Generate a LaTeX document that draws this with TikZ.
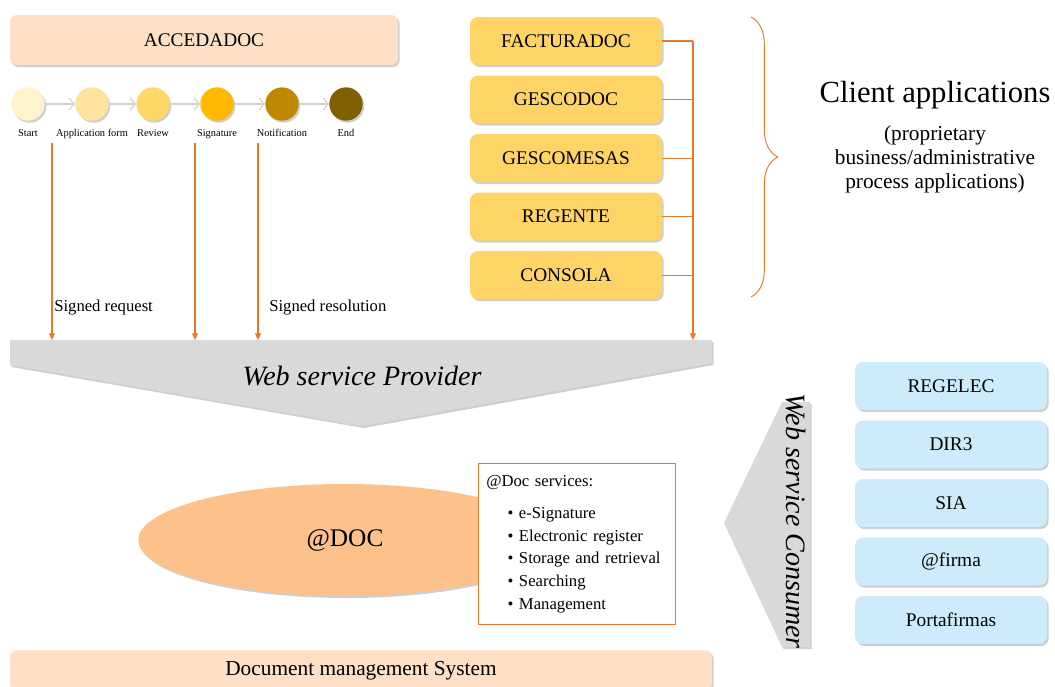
\documentclass[tikz,border=0pt]{standalone}
\usepackage{fontspec}
\setmainfont{Liberation Serif}
\usetikzlibrary{positioning,arrows.meta,shadows,shapes.geometric,decorations.pathreplacing}

\definecolor{peach}{HTML}{FDE0C6}
\definecolor{gold}{HTML}{FFD466}
\definecolor{skyb}{HTML}{CDEBFA}
\definecolor{lineor}{HTML}{E8782A}
\definecolor{ovalor}{HTML}{FDC18C}
\definecolor{greyarr}{HTML}{D9D9D9}
\definecolor{st1}{HTML}{FFF2CC}
\definecolor{st2}{HTML}{FFE29C}
\definecolor{st3}{HTML}{FFD766}
\definecolor{st4}{HTML}{FFBA00}
\definecolor{st5}{HTML}{BF8800}
\definecolor{st6}{HTML}{7F5F00}

\begin{document}
\begin{tikzpicture}[x=0.75pt, y=-0.75pt,
  node distance=7.5pt,
  shad/.style={drop shadow={shadow xshift=1.2pt, shadow yshift=-1.5pt,
               opacity=.35, fill=black!55}},
  bar/.style={rounded corners=5pt, fill=peach, shad, minimum height=37.5pt,
              font=\fontsize{14.5}{17}\selectfont},
  app/.style={rounded corners=6pt, fill=gold, shad, minimum width=144pt,
              minimum height=36pt, font=\fontsize{14.5}{17}\selectfont},
  ext/.style={app, fill=skyb},
  stepdot/.style={circle, minimum size=25pt, inner sep=0pt, shad},
  steplbl/.style={font=\fontsize{7.8}{9}\selectfont, inner sep=1pt, yshift=-5pt},
  chev/.style={draw=black!18, line width=.8pt, -{Straight Barb[length=4pt, width=9pt]}},
  feed/.style={draw=lineor, line width=.8pt},
  arr/.style={feed, -{Triangle[length=5pt, width=4.5pt]}},
  lbl/.style={font=\fontsize{12.5}{15}\selectfont, anchor=west, inner sep=0pt},
  big/.style={font=\fontsize{21}{25}\selectfont\itshape}]
\useasboundingbox (0,0) rectangle (1055,686);
% request workflow
\node[bar, minimum width=291pt] (acce) at (204,40) {ACCEDADOC};
\node[stepdot, fill=st1, label={[steplbl]below:Start}] (s1) at (28,104) {};
\node[stepdot, fill=st2, label={[steplbl]below:Application form}] (s2) at (92,104) {};
\node[stepdot, fill=st3, label={[steplbl]below:Review}] (s3) at (153,104) {};
\node[stepdot, fill=st4, label={[steplbl]below:Signature}] (s4) at (217,104) {};
\node[stepdot, fill=st5, label={[steplbl]below:Notification}] (s5) at (282,104) {};
\node[stepdot, fill=st6, label={[steplbl]below:End}] (s6) at (346,104) {};
\draw[chev] (s1) -- (s2); \draw[chev] (s2) -- (s3); \draw[chev] (s3) -- (s4);
\draw[chev] (s4) -- (s5); \draw[chev] (s5) -- (s6);
% client applications
\node[app] (fact) at (566,41) {FACTURADOC};
\node[app, below=of fact] (gesco) {GESCODOC};
\node[app, below=of gesco] (gescm) {GESCOMESAS};
\node[app, below=of gescm] (regen) {REGENTE};
\node[app, below=of regen] (cons) {CONSOLA};
\draw[lineor, line width=.7pt, decorate, decoration={brace, amplitude=20pt}]
  (751,17) -- (751,297);
\node[font=\fontsize{23}{27}\selectfont] (cli) at (935,95) {Client applications};
\node[font=\fontsize{16}{18}\selectfont, align=center] (clisub) at (935,159)
  {(proprietary\\business/administrative\\process applications)};
% web service provider
\fill[greyarr, shad] (10,340) -- (712,340) -- (712,363) -- (362,426) -- (10,365) -- cycle;
\node[big] (prov) at (362,376) {Web service Provider};
\coordinate (provtop) at (362,340);
\coordinate (bus) at (693,340);
\coordinate (req) at (52,143);
\coordinate (sig) at (195,143);
\coordinate (res) at (258,143);
\draw[arr] (req) -- (req |- provtop);
\draw[arr] (sig) -- (sig |- provtop);
\draw[arr] (res) -- (res |- provtop);
\node[lbl] (sreq) at (54,308) {Signed request};
\node[lbl] (sres) at (269,308) {Signed resolution};
\draw[feed] (fact.east) -- (fact.east -| bus);
\draw[feed] (gesco.east) -- (gesco.east -| bus);
\draw[feed] (gescm.east) -- (gescm.east -| bus);
\draw[feed] (regen.east) -- (regen.east -| bus);
\draw[feed] (cons.east) -- (cons.east -| bus);
\draw[arr] (fact.east -| bus) -- (bus);
% @DOC and its services
\node[ellipse, fill=ovalor, shad, minimum width=310pt, minimum height=84pt,
      font=\fontsize{19}{22}\selectfont] (adoc) at (345,540) {@DOC};
\node[draw=lineor, fill=white, anchor=north west, minimum width=148pt,
      minimum height=121pt, text width=136pt, align=left, inner sep=6pt,
      font=\fontsize{12.5}{17}\selectfont] (serv) at (478,463)
  {@Doc services:\\[7pt]
   \hspace*{16pt}\textbullet\ e-Signature\\
   \hspace*{16pt}\textbullet\ Electronic register\\
   \hspace*{16pt}\textbullet\ Storage and retrieval\\
   \hspace*{16pt}\textbullet\ Searching\\
   \hspace*{16pt}\textbullet\ Management};
% web service consumer
\fill[greyarr, shad] (724,523) -- (782,402) -- (810,402) -- (810,647) -- (782,647) -- cycle;
\node[big, rotate=-90] (consu) at (796,521) {Web service Consumer};
\node[ext] (regel) at (951,386) {REGELEC};
\node[ext, below=of regel] (dir) {DIR3};
\node[ext, below=of dir] (sia) {SIA};
\node[ext, below=of sia] (afirm) {@firma};
\node[ext, below=of afirm] (porta) {Portafirmas};
% document management system
\node[bar, anchor=north, minimum width=526.5pt, minimum height=30pt,
      font=\fontsize{16}{19}\selectfont] (dms) at (361,650) {Document management System};
\end{tikzpicture}
\end{document}
